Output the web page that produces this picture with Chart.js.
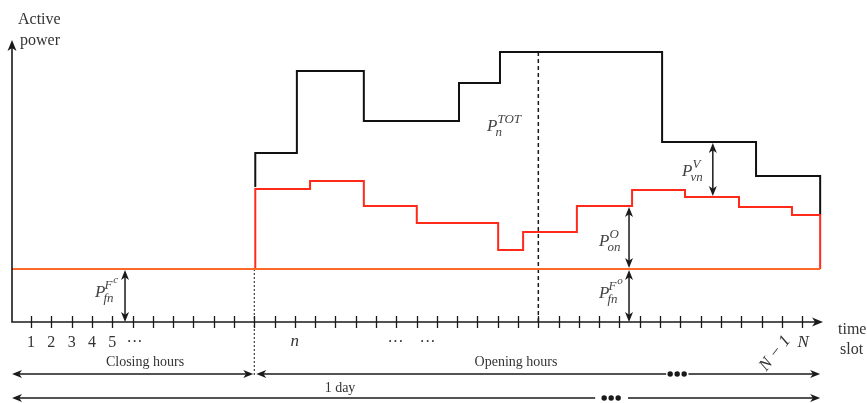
<!DOCTYPE html>
<html>
<head>
<meta charset="utf-8">
<script src="https://cdn.jsdelivr.net/npm/chart.js@4/dist/chart.umd.min.js"></script>
<style>
  html, body { margin: 0; padding: 0; background: #fff; }
  #wrap { width: 867px; height: 403px; }
</style>
</head>
<body>
<div id="wrap"><canvas id="c" width="867" height="403"></canvas></div>
<script>
// Time-slot ticks along the horizontal axis
const slotTicks = [1,2,3,4,5,6,7,8,9,10,11,12,13,14,15,16,17,18,19,20,
                   21,22,23,24,25,26,27,28,29,30,31,32,33,34,35,36,37,38,39];
const tickLabels = ['1', '2', '3', '4', '5', '···'];   // slots 1..6
const tickLabelSlots = [1, 2, 3, 4, 5, 6.1];

// Total active power P_n^TOT (step edges in slot units, level per step)
const totalEdges  = [12.05, 14.1, 17.4, 22.09, 24.11, 32.1, 36.73, 39.89];
const totalLevels = [169, 251, 201, 239, 270, 180, 146];
const totalStart = 135;   // joins the operating-power curve
const totalEnd   = 107;

// Operating power (red) during opening hours
const operEdges  = [12.05, 14.75, 17.4, 20.01, 24.02, 25.25, 27.9, 30.62, 33.23, 35.89, 38.5, 39.89];
const operLevels = [133, 141, 116, 99, 72, 90, 116, 132, 125, 115, 107];

// Fixed base load (orange)
const baseLoad = 53;
const baseStart = 0.06, baseEnd = 39.89;

// Key slots
const openSlot = 12;       // start of opening hours
const nowSlot = 26;        // slot n where P_n^TOT is marked
const lastSlot = 39;

function stepPoints(edges, levels, startY, endY) {
  const pts = [{ x: edges[0], y: startY }];
  levels.forEach((lv, i) => {
    pts.push({ x: edges[i], y: lv });
    pts.push({ x: edges[i + 1], y: lv });
  });
  pts.push({ x: edges[edges.length - 1], y: endY });
  return pts;
}

const INK = '#1a1a1a';
const TXT = '#333333';
const SERIF = '"Liberation Serif", "DejaVu Serif", serif';

function arrowHead(ctx, x, y, dir, len = 10, hw = 4) {
  // dir: angle in radians pointing where the tip faces
  ctx.save();
  ctx.translate(x, y);
  ctx.rotate(dir);
  ctx.beginPath();
  ctx.moveTo(0, 0);
  ctx.lineTo(-len, -hw);
  ctx.lineTo(-len * 0.72, 0);
  ctx.lineTo(-len, hw);
  ctx.closePath();
  ctx.fill();
  ctx.restore();
}

function vDoubleArrow(ctx, x, y1, y2) {
  ctx.beginPath();
  ctx.moveTo(x, y1 + 5);
  ctx.lineTo(x, y2 - 5);
  ctx.stroke();
  arrowHead(ctx, x, y1, -Math.PI / 2);
  arrowHead(ctx, x, y2, Math.PI / 2);
}

function dots(ctx, x, y) {
  for (let i = 0; i < 3; i++) {
    ctx.beginPath();
    ctx.arc(x + i * 7, y, 2.7, 0, Math.PI * 2);
    ctx.fill();
  }
}

// Italic symbol with superscript and subscript
function sym(ctx, x, y, base, sup, sub, size = 17) {
  ctx.save();
  ctx.textAlign = 'left';
  ctx.textBaseline = 'alphabetic';
  ctx.font = `italic ${size}px ${SERIF}`;
  ctx.fillText(base, x, y);
  const w = ctx.measureText(base).width;
  const s = Math.round(size * 0.76);
  ctx.font = `italic ${s}px ${SERIF}`;
  if (sup) ctx.fillText(sup, x + w, y - size * 0.5);
  if (sub) ctx.fillText(sub, x + w - 2, y + size * 0.32);
  ctx.restore();
}

function symCal(ctx, x, y, sub, supLetter, size = 17) {
  // P with a curly F carrying its own superscript
  ctx.save();
  ctx.textAlign = 'left';
  ctx.font = `italic ${size}px ${SERIF}`;
  ctx.fillText('P', x, y);
  const w = ctx.measureText('P').width;
  const s = Math.round(size * 0.76);
  ctx.font = `italic ${s}px ${SERIF}`;
  ctx.fillText('F', x + w - 1, y - size * 0.45);
  const wf = ctx.measureText('F').width;
  ctx.font = `italic ${Math.round(size * 0.66)}px ${SERIF}`;
  ctx.fillText(supLetter, x + w + wf, y - size * 0.8);
  ctx.font = `italic ${s}px ${SERIF}`;
  ctx.fillText(sub, x + w - 2, y + size * 0.32);
  ctx.restore();
}

const decor = {
  id: 'decor',
  beforeDatasetsDraw(chart) {
    const { ctx, chartArea: a, scales: { x, y } } = chart;
    ctx.save();
    ctx.strokeStyle = INK;
    ctx.fillStyle = INK;
    ctx.lineWidth = 1.5;

    // dashed marker at slot n (full height up to the total curve)
    ctx.setLineDash([4, 3]);
    ctx.beginPath();
    ctx.moveTo(x.getPixelForValue(nowSlot), y.getPixelForValue(270));
    ctx.lineTo(x.getPixelForValue(nowSlot), a.bottom);
    ctx.stroke();

    // dotted boundary between closing and opening hours
    ctx.setLineDash([2, 2]);
    ctx.lineWidth = 1;
    ctx.beginPath();
    ctx.moveTo(x.getPixelForValue(openSlot), y.getPixelForValue(baseLoad));
    ctx.lineTo(x.getPixelForValue(openSlot), a.bottom + 55);
    ctx.stroke();
    ctx.setLineDash([]);
    ctx.restore();
  },
  afterDatasetsDraw(chart) {
    const { ctx, chartArea: a, scales: { x, y } } = chart;
    ctx.save();
    ctx.strokeStyle = INK;
    ctx.fillStyle = INK;
    ctx.lineWidth = 1.6;

    // axes
    ctx.beginPath();
    ctx.moveTo(a.left, a.top + 6);
    ctx.lineTo(a.left, a.bottom);
    ctx.lineTo(a.right - 6, a.bottom);
    ctx.stroke();
    arrowHead(ctx, a.left, a.top, -Math.PI / 2, 11, 4.5);
    arrowHead(ctx, a.right, a.bottom, 0, 11, 4.5);

    // tick marks crossing the axis
    ctx.lineWidth = 1.3;
    slotTicks.forEach(t => {
      const px = Math.round(x.getPixelForValue(t)) + 0.5;
      ctx.beginPath();
      ctx.moveTo(px, a.bottom - 6);
      ctx.lineTo(px, a.bottom + 6);
      ctx.stroke();
    });

    // annotation arrows
    ctx.lineWidth = 1.5;
    vDoubleArrow(ctx, x.getPixelForValue(5.63), y.getPixelForValue(baseLoad) + 1, y.getPixelForValue(0));
    vDoubleArrow(ctx, x.getPixelForValue(30.47), y.getPixelForValue(116) + 1, y.getPixelForValue(baseLoad) - 1);
    vDoubleArrow(ctx, x.getPixelForValue(30.47), y.getPixelForValue(baseLoad) + 1, y.getPixelForValue(0));
    vDoubleArrow(ctx, x.getPixelForValue(34.6), y.getPixelForValue(180) + 1, y.getPixelForValue(125) - 1);

    // span arrows below the axis
    const left = a.left;
    const open = x.getPixelForValue(openSlot);
    const end = x.getPixelForValue(baseEnd);
    const r1 = a.bottom + 52, r2 = a.bottom + 76;
    ctx.lineWidth = 1.5;
    // closing hours
    ctx.beginPath(); ctx.moveTo(left + 5, r1); ctx.lineTo(open - 5, r1); ctx.stroke();
    arrowHead(ctx, left, r1, Math.PI);
    arrowHead(ctx, open - 1, r1, 0);
    // opening hours
    ctx.beginPath(); ctx.moveTo(open + 5, r1); ctx.lineTo(x.getPixelForValue(32.3), r1); ctx.stroke();
    arrowHead(ctx, open + 2, r1, Math.PI);
    dots(ctx, x.getPixelForValue(32.35) + 3, r1);
    ctx.beginPath(); ctx.moveTo(x.getPixelForValue(33.4), r1); ctx.lineTo(end - 5, r1); ctx.stroke();
    arrowHead(ctx, end, r1, 0);
    // one day
    ctx.beginPath(); ctx.moveTo(left + 5, r2); ctx.lineTo(x.getPixelForValue(28.8), r2); ctx.stroke();
    arrowHead(ctx, left, r2, Math.PI);
    dots(ctx, x.getPixelForValue(28.9) + 7, r2);
    ctx.beginPath(); ctx.moveTo(x.getPixelForValue(30.42), r2); ctx.lineTo(end - 5, r2); ctx.stroke();
    arrowHead(ctx, end, r2, 0);

    // texts
    ctx.fillStyle = TXT;
    ctx.textBaseline = 'alphabetic';
    ctx.textAlign = 'left';
    ctx.font = `16px ${SERIF}`;
    ctx.fillText('Active', 18, 24);
    ctx.fillText('power', 20, 45);
    ctx.fillText('time', 838, 334);
    ctx.fillText('slot', 840, 354);

    ctx.textAlign = 'center';
    ctx.font = `16px ${SERIF}`;
    tickLabels.forEach((lab, i) => {
      ctx.fillText(lab, x.getPixelForValue(tickLabelSlots[i]), a.bottom + 25);
    });
    ctx.fillText('···', x.getPixelForValue(18.96), a.bottom + 25);
    ctx.fillText('···', x.getPixelForValue(20.54), a.bottom + 25);
    ctx.font = `italic 17px ${SERIF}`;
    ctx.fillText('n', x.getPixelForValue(14), a.bottom + 24);
    ctx.fillText('N', x.getPixelForValue(lastSlot) + 1, a.bottom + 25);
    ctx.save();
    ctx.translate(x.getPixelForValue(lastSlot - 1) - 7, a.bottom + 31);
    ctx.rotate(-0.9);
    ctx.fillText('N \u2212 1', 0, 5);
    ctx.restore();

    ctx.font = `14px ${SERIF}`;
    ctx.fillText('Closing hours', 145, a.bottom + 44);
    ctx.fillText('Opening hours', 516, a.bottom + 44);
    ctx.fillText('1 day', 340, a.bottom + 70);

    // symbols
    ctx.fillStyle = '#444';
    symCal(ctx, 95, 297, 'fn', 'c');
    symCal(ctx, 599, 298, 'fn', 'o');
    sym(ctx, 599, 246, 'P', 'O', 'on');
    sym(ctx, 682, 176, 'P', 'V', 'vn');
    sym(ctx, 487, 131, 'P', 'TOT', 'n');
    ctx.restore();
  }
};

new Chart(document.getElementById('c'), {
  type: 'line',
  data: {
    datasets: [
      {
        data: [{ x: baseStart, y: baseLoad }, { x: baseEnd, y: baseLoad }],
        borderColor: '#ff6a2a', borderWidth: 2
      },
      {
        data: stepPoints(operEdges, operLevels, baseLoad, baseLoad),
        borderColor: '#ff2a1a', borderWidth: 2
      },
      {
        data: stepPoints(totalEdges, totalLevels, totalStart, totalEnd),
        borderColor: '#111111', borderWidth: 2
      }
    ]
  },
  options: {
    responsive: false,
    animation: false,
    devicePixelRatio: 1,
    parsing: false,
    layout: { padding: { left: 12, right: 44, top: 40, bottom: 81 } },
    elements: { point: { radius: 0 }, line: { tension: 0, fill: false, borderJoinStyle: 'miter' } },
    scales: {
      x: { type: 'linear', min: 0.06, max: 40.03, display: false },
      y: { type: 'linear', min: 0, max: 282, display: false }
    },
    plugins: { legend: { display: false }, tooltip: { enabled: false } }
  },
  plugins: [decor]
});
</script>
</body>
</html>
